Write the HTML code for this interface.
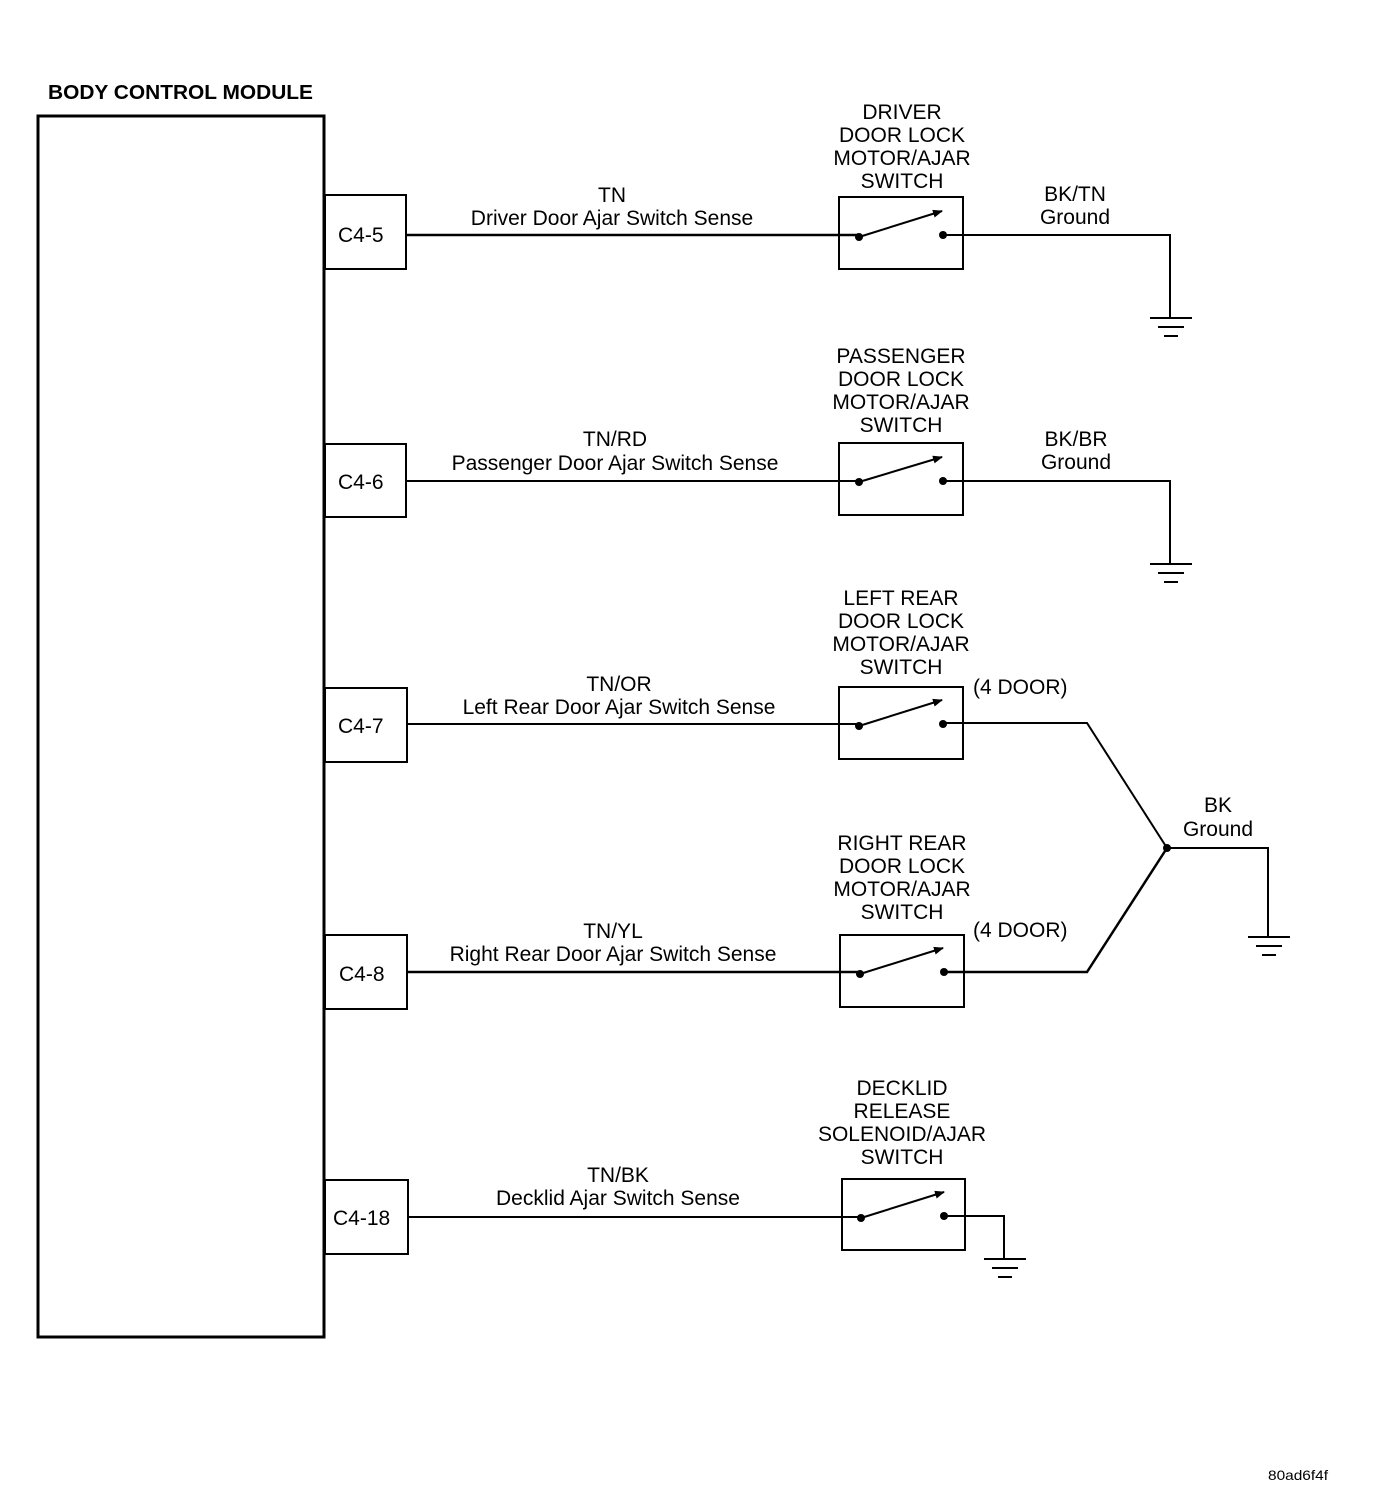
<!DOCTYPE html>
<html><head><meta charset="utf-8"><style>
html,body{margin:0;padding:0;background:#fff;}
svg{display:block;}
text{font-family:"Liberation Sans",Arial,sans-serif;font-size:21px;fill:#000;}
.c{text-anchor:middle;}
</style></head><body>
<svg width="1376" height="1506" viewBox="0 0 1376 1506" xmlns="http://www.w3.org/2000/svg">
<defs>
<marker id="ar" markerWidth="10" markerHeight="8" refX="9" refY="4" orient="auto" markerUnits="userSpaceOnUse">
<path d="M0,0 L10,4 L0,8 z" fill="#000"/></marker>
</defs>
<text x="48" y="99" style="font-weight:bold;font-size:20px" textLength="265" lengthAdjust="spacingAndGlyphs">BODY CONTROL MODULE</text>
<rect x="38" y="116" width="286" height="1221" fill="none" stroke="#000" stroke-width="3"/>

<g fill="none" stroke="#000" stroke-width="2">
<rect x="325" y="195" width="81" height="74"/>
<rect x="325" y="444" width="81" height="73"/>
<rect x="325" y="688" width="82" height="74"/>
<rect x="325" y="935" width="82" height="74"/>
<rect x="325" y="1180" width="83" height="74"/>

<rect x="839" y="197" width="124" height="72"/>
<rect x="839" y="443" width="124" height="72"/>
<rect x="839" y="687" width="124" height="72"/>
<rect x="840" y="935" width="124" height="72"/>
<rect x="842" y="1179" width="123" height="71"/>
</g>
<g fill="none" stroke="#000" stroke-width="2">
<path d="M406,235 H858" stroke-width="2.5"/>
<path d="M943,235 H1170 V318"/>
<path d="M406,481 H858"/>
<path d="M943,481 H1170 V564"/>
<path d="M407,724 H858"/>
<path d="M943,723 H1087 L1167,848"/>
<path d="M407,972 H858" stroke-width="2.5"/>
<path d="M943,972 H1087 L1167,848" stroke-width="2.5"/>
<path d="M1167,848 H1268 V937"/>
<path d="M408,1217 H860"/>
<path d="M944,1216 H1004 V1259"/>
<path d="M1150,318 H1192 M1158,327 H1184 M1164,336 H1178"/>
<path d="M1150,564 H1192 M1158,573 H1184 M1164,582 H1178"/>
<path d="M1248,937 H1290 M1256,946 H1282 M1262,955 H1276"/>
<path d="M984,1259 H1026 M992,1268 H1018 M998,1277 H1012"/>
<path d="M859,237 L942,211" marker-end="url(#ar)"/>
<path d="M859,482 L942,457" marker-end="url(#ar)"/>
<path d="M859,726 L942,700" marker-end="url(#ar)"/>
<path d="M860,974 L943,948" marker-end="url(#ar)"/>
<path d="M861,1218 L944,1192" marker-end="url(#ar)"/>
</g>
<g fill="#000">
<circle cx="859" cy="237" r="4"/><circle cx="943" cy="235" r="4"/>
<circle cx="859" cy="482" r="4"/><circle cx="943" cy="481" r="4"/>
<circle cx="859" cy="726" r="4"/><circle cx="943" cy="724" r="4"/>
<circle cx="860" cy="974" r="4"/><circle cx="944" cy="972" r="4"/>
<circle cx="861" cy="1218" r="4"/><circle cx="944" cy="1216" r="4"/>
<circle cx="1167" cy="848" r="4"/>
</g>

<text x="338" y="242">C4-5</text>
<text x="338" y="489">C4-6</text>
<text x="338" y="733">C4-7</text>
<text x="339" y="981">C4-8</text>
<text x="333" y="1225">C4-18</text>

<text class="c" x="612" y="202">TN</text>
<text class="c" x="612" y="225">Driver Door Ajar Switch Sense</text>
<text class="c" x="615" y="446">TN/RD</text>
<text class="c" x="615" y="470">Passenger Door Ajar Switch Sense</text>
<text class="c" x="619" y="691">TN/OR</text>
<text class="c" x="619" y="714">Left Rear Door Ajar Switch Sense</text>
<text class="c" x="613" y="938">TN/YL</text>
<text class="c" x="613" y="961">Right Rear Door Ajar Switch Sense</text>
<text class="c" x="618" y="1182">TN/BK</text>
<text class="c" x="618" y="1205">Decklid Ajar Switch Sense</text>

<text class="c" x="902" y="119">DRIVER</text>
<text class="c" x="902" y="142">DOOR LOCK</text>
<text class="c" x="902" y="165">MOTOR/AJAR</text>
<text class="c" x="902" y="188">SWITCH</text>

<text class="c" x="901" y="363">PASSENGER</text>
<text class="c" x="901" y="386">DOOR LOCK</text>
<text class="c" x="901" y="409">MOTOR/AJAR</text>
<text class="c" x="901" y="432">SWITCH</text>

<text class="c" x="901" y="605">LEFT REAR</text>
<text class="c" x="901" y="628">DOOR LOCK</text>
<text class="c" x="901" y="651">MOTOR/AJAR</text>
<text class="c" x="901" y="674">SWITCH</text>

<text class="c" x="902" y="850">RIGHT REAR</text>
<text class="c" x="902" y="873">DOOR LOCK</text>
<text class="c" x="902" y="896">MOTOR/AJAR</text>
<text class="c" x="902" y="919">SWITCH</text>

<text class="c" x="902" y="1095">DECKLID</text>
<text class="c" x="902" y="1118">RELEASE</text>
<text class="c" x="902" y="1141">SOLENOID/AJAR</text>
<text class="c" x="902" y="1164">SWITCH</text>

<text class="c" x="1075" y="201">BK/TN</text>
<text class="c" x="1075" y="224">Ground</text>
<text class="c" x="1076" y="446">BK/BR</text>
<text class="c" x="1076" y="469">Ground</text>
<text class="c" x="1218" y="812">BK</text>
<text class="c" x="1218" y="836">Ground</text>
<text x="973" y="694">(4 DOOR)</text>
<text x="973" y="937">(4 DOOR)</text>

<text x="1268" y="1480" style="font-size:14px" textLength="60" lengthAdjust="spacingAndGlyphs">80ad6f4f</text>
</svg>
</body></html>
